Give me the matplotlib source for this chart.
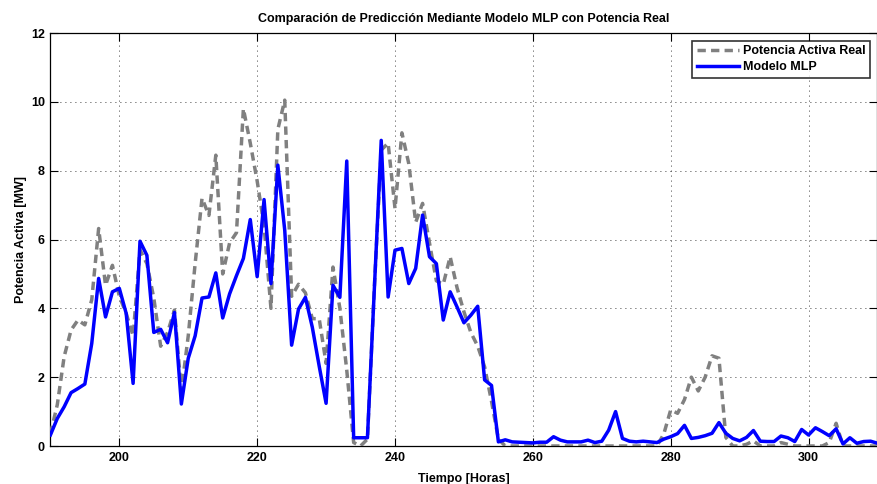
import matplotlib
matplotlib.use("Agg")
import matplotlib.pyplot as plt
import numpy as np

plt.rcParams['font.family'] = ['Liberation Sans', 'DejaVu Sans']
plt.rcParams['font.weight'] = 'bold'

# Hourly time axis (hours 190 .. 310)
horas = np.arange(190, 311)

# Measured active power [MW]
potencia_real = [
    0.35, 1.20, 2.60, 3.37, 3.66, 3.52, 4.25, 6.32, 4.67, 5.25,   # 190-199
    4.35, 3.85, 3.20, 5.70, 5.30, 4.30, 2.90, 3.30, 3.95, 1.60,   # 200-209
    3.20, 5.30, 7.20, 6.70, 8.45, 5.00, 5.90, 6.20, 9.80, 8.80,   # 210-219
    7.70, 6.40, 4.00, 9.20, 10.05, 4.35, 4.70, 4.45, 3.70, 3.70,  # 220-229
    2.40, 5.20, 4.00, 2.20, 0.10, 0.00, 0.20, 4.60, 8.60, 8.80,   # 230-239
    6.90, 9.10, 8.20, 6.50, 7.05, 5.90, 4.80, 4.70, 5.50, 4.60,   # 240-249
    3.90, 3.30, 2.90, 2.30, 1.30, 0.20, 0.00, 0.00, 0.00, 0.00,   # 250-259
    0.00, 0.00, 0.00, 0.00, 0.00, 0.00, 0.00, 0.00, 0.00, 0.00,   # 260-269
    0.00, 0.00, 0.00, 0.00, 0.00, 0.00, 0.00, 0.00, 0.00, 0.35,   # 270-279
    1.05, 0.95, 1.35, 2.00, 1.60, 2.00, 2.62, 2.55, 0.25, 0.00,   # 280-289
    0.00, 0.05, 0.15, 0.00, 0.00, 0.00, 0.10, 0.05, 0.00, 0.00,   # 290-299
    0.00, 0.00, 0.00, 0.10, 0.66, 0.00, 0.00, 0.00, 0.00, 0.00,   # 300-309
    0.00,                                                         # 310
]

# MLP model prediction [MW]
modelo_mlp = [
    0.32, 0.80, 1.14, 1.55, 1.67, 1.80, 2.98, 4.87, 3.75, 4.48,   # 190-199
    4.58, 3.85, 1.82, 5.95, 5.54, 3.30, 3.39, 3.00, 3.88, 1.22,   # 200-209
    2.55, 3.20, 4.30, 4.33, 5.03, 3.72, 4.42, 4.95, 5.45, 6.58,   # 210-219
    4.92, 7.16, 4.72, 8.16, 6.27, 2.93, 3.98, 4.32, 3.45, 2.32,   # 220-229
    1.24, 4.67, 4.32, 8.28, 0.24, 0.24, 0.24, 4.56, 8.88, 4.33,   # 230-239
    5.69, 5.74, 4.72, 5.16, 6.71, 5.50, 5.30, 3.66, 4.48, 4.04,   # 240-249
    3.58, 3.80, 4.06, 1.92, 1.76, 0.12, 0.18, 0.12, 0.11, 0.10,   # 250-259
    0.09, 0.11, 0.11, 0.27, 0.17, 0.12, 0.12, 0.12, 0.17, 0.10,   # 260-269
    0.14, 0.46, 1.00, 0.22, 0.14, 0.12, 0.14, 0.12, 0.10, 0.20,   # 270-279
    0.27, 0.36, 0.60, 0.22, 0.25, 0.30, 0.37, 0.68, 0.37, 0.22,   # 280-289
    0.15, 0.25, 0.45, 0.14, 0.13, 0.13, 0.29, 0.24, 0.13, 0.48,   # 290-299
    0.32, 0.53, 0.42, 0.30, 0.50, 0.06, 0.24, 0.08, 0.13, 0.14,   # 300-309
    0.08,                                                         # 310
]

x_ticks = [200, 220, 240, 260, 280, 300]
y_ticks = [0, 2, 4, 6, 8, 10, 12]

fig = plt.figure(figsize=(8.78, 4.84), dpi=100)
ax = fig.add_axes([0.0574, 0.0785, 0.9420, 0.8533])

ax.plot(horas, potencia_real, color=(0.5, 0.5, 0.5), lw=2.5,
        linestyle=(0, (2.4, 1.5)), label='Potencia Activa Real', zorder=3)
ax.plot(horas, modelo_mlp, color=(0, 0, 1), lw=2.5,
        label='Modelo MLP', zorder=4)

ax.set_xlim(190, 310)
ax.set_ylim(0, 12)
ax.set_xticks(x_ticks)
ax.set_yticks(y_ticks)
ax.tick_params(direction='in', length=6, width=0.8, top=True, right=True,
               labelsize=9, pad=4)
for lbl in ax.get_xticklabels() + ax.get_yticklabels():
    lbl.set_fontweight('bold')

ax.grid(True, color='k', linestyle=(0, (1, 5)), linewidth=0.6)
for s in ax.spines.values():
    s.set_linewidth(0.9)

ax.set_title('Comparación de Predicción Mediante Modelo MLP con Potencia Real',
             fontsize=9, fontweight='bold', pad=8)
ax.set_xlabel('Tiempo [Horas]', fontsize=9, fontweight='bold', labelpad=7)
ax.set_ylabel('Potencia Activa [MW]', fontsize=9, fontweight='bold', labelpad=3)

leg = ax.legend(loc='upper right', fontsize=9, frameon=True, fancybox=False,
                handlelength=3.4, borderpad=0.35, labelspacing=0.35,
                handletextpad=0.3, borderaxespad=0.6)
leg.get_frame().set_edgecolor('k')
leg.get_frame().set_linewidth(1.2)
for t in leg.get_texts():
    t.set_fontweight('bold')

fig.savefig('out.png', dpi=100)
